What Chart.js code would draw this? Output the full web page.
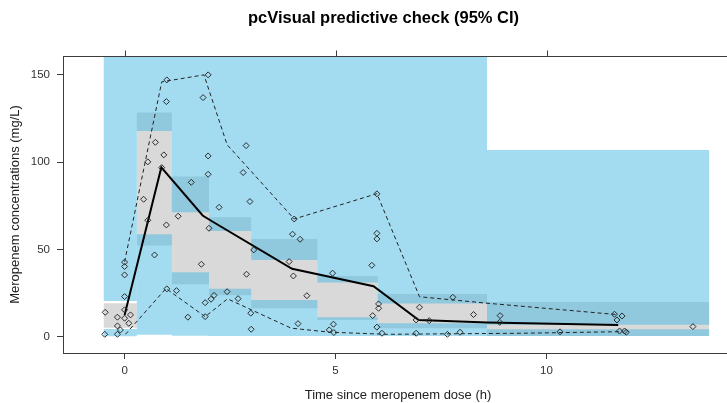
<!DOCTYPE html>
<html>
<head>
<meta charset="utf-8">
<script src="https://cdn.jsdelivr.net/npm/chart.js@4.4.0/dist/chart.umd.min.js"></script>
<style>
  html, body { margin: 0; padding: 0; background: #fff; overflow: hidden; }
  #wrap { width: 767px; height: 403px; }
</style>
</head>
<body>
<div id="wrap"><canvas id="vpc" width="767" height="403"></canvas></div>
<script>
// bins (h) and the simulated intervals per bin (mg/L)
const binEdges   = [-0.5, 0.29, 1.12, 2.0, 3.0, 4.57, 6.0, 8.59, 13.86];
const upperPiLo  = [20.6, 117.9, 71.4, 60.7, 44.1, 31.1, 19.1, 6.9];
const upperPiHi  = [165, 165, 165, 165, 165, 165, 165, 107];
const medianCiLo = [5.3, 52.3, 30.2, 23.9, 16.4, 9.7, 5.0, 0.6];
const medianCiHi = [19.3, 128.4, 91.8, 68.5, 56.1, 34.9, 24.6, 20.0];
const lowerPiLo  = [0.4, 1.3, 0.7, 0.6, 0.6, 0.5, 0.5, 0.6];
const lowerPiHi  = [4.6, 58.8, 37.0, 27.6, 21.2, 11.3, 7.8, 4.4];

// observed percentiles
const medTime = [0.0, 0.87, 1.85, 2.05, 3.97, 5.9, 6.97, 8.6, 11.7];
const medConc = [12.5, 97, 69.5, 66.5, 39, 29, 9.7, 8.2, 6.8];
const upTime  = [0.0, 0.88, 1.88, 2.43, 4.02, 5.98, 6.99, 8.59, 11.67];
const upConc  = [43, 146, 150, 110, 67.5, 82, 23, 19.3, 12.8];
const lowTime = [0.02, 0.98, 1.91, 2.44, 3.95, 4.87, 6.2, 9.4, 11.75];
const lowConc = [1.5, 27.7, 11.6, 21.8, 5, 2.7, 1.5, 2.1, 3.0];

// observed concentrations
const obsTime = [
  -0.47, -0.46, -0.17, -0.17, -0.1, -0.17, 0.0, 0.0, 0.0, 0.0, 0.0, 0.0, 0.14, 0.1,
  0.45, 0.55, 0.55, 0.71, 0.73, 0.88, 0.93, 0.99, 1.0, 0.99, 1.0,
  1.23, 1.27, 1.5, 1.58, 1.82, 1.86, 1.91, 1.91, 1.98, 1.98, 1.98, 2.0,
  2.05, 2.12, 2.24, 2.43, 2.69, 2.81, 2.88, 2.89, 2.97, 2.99, 3.0, 3.06,
  3.9, 3.98, 4.0, 4.02, 4.11, 4.16, 4.32,
  4.85, 4.93, 4.95, 4.96, 5.86, 5.88, 5.98, 5.98, 5.98, 5.98,
  6.02, 6.02, 6.1, 6.91, 6.91, 6.99, 7.22, 7.65, 7.78, 7.95, 8.27,
  8.9, 8.89, 10.32, 11.61, 11.67, 11.79, 11.73, 11.85, 11.89, 13.47
];
const obsConc = [
  1.5, 14.1, 11.3, 6.3, 4.0, 1.5, 42.8, 40.3, 35.5, 23.1, 15.5, 10.7, 12.6, 7.8,
  78.8, 100.2, 66.8, 46.9, 111.4, 96.9, 104.2, 134.7, 147.1, 64.1, 27.5,
  26.5, 69.1, 11.3, 88.5, 41.6, 137, 19.6, 11.6, 150, 103.6, 93.1, 62.2,
  21.6, 23.8, 74.2, 25.9, 21.9, 94.1, 109.5, 35.9, 77.5, 13.6, 4.4, 49.8,
  43.1, 58.8, 34.9, 67.5, 7.6, 55.9, 23.6,
  4.0, 36.5, 7.3, 2.5, 41, 12.2, 81.9, 59.3, 56.1, 5.6,
  18.9, 16.4, 2.1, 9.7, 2.1, 17, 9.3, 1.5, 22.7, 2.7, 12.8,
  12.2, 8.4, 2.9, 13, 9.7, 12, 3.4, 3.4, 2.7, 5.9
];

const FONT = "'Liberation Sans', Arial, sans-serif";
const GREY_BAND = '#d9d9d9';
const BLUE_BAND = 'rgba(71, 185, 227, 0.5)';

// step outline of one band edge across the bins
function stepEdge(values) {
  const pts = [];
  values.forEach((v, i) => {
    pts.push({ x: binEdges[i], y: v });
    pts.push({ x: binEdges[i + 1], y: v });
  });
  return pts;
}

function edgeSet(values, fill, color, order) {
  return {
    data: stepEdge(values),
    borderColor: 'transparent',
    backgroundColor: color,
    pointRadius: 0,
    tension: 0,
    fill: fill,
    order: order
  };
}

function toPoints(xs, ys) {
  return xs.map((x, i) => ({ x: x, y: ys[i] }));
}

// frame around the panel plus tick marks on top
const framePlugin = {
  id: 'frame',
  afterDraw(chart) {
    const { ctx, chartArea: a, scales } = chart;
    ctx.save();
    ctx.strokeStyle = '#3c3c3c';
    ctx.lineWidth = 1;
    const l = Math.round(a.left) + 0.5, t = Math.round(a.top) + 0.5;
    const r = Math.round(a.right) + 0.5, b = Math.round(a.bottom) + 0.5;
    ctx.strokeRect(l, t, r - l, b - t);
    ctx.beginPath();
    scales.x.ticks.forEach(tk => {
      const px = Math.round(scales.x.getPixelForValue(tk.value)) + 0.5;
      ctx.moveTo(px, t);
      ctx.lineTo(px, t - 6);
    });
    ctx.stroke();
    ctx.restore();
  }
};

const ctx = document.getElementById('vpc').getContext('2d');

new Chart(ctx, {
  type: 'line',
  data: {
    datasets: [
      edgeSet(medianCiLo, false, GREY_BAND, 10),
      edgeSet(medianCiHi, '-1', GREY_BAND, 10),
      edgeSet(upperPiLo, false, BLUE_BAND, 8),
      edgeSet(upperPiHi, '-1', BLUE_BAND, 8),
      edgeSet(lowerPiLo, false, BLUE_BAND, 8),
      edgeSet(lowerPiHi, '-1', BLUE_BAND, 8),
      {
        data: toPoints(medTime, medConc),
        borderColor: '#000',
        borderWidth: 2,
        pointRadius: 0,
        fill: false,
        order: 3
      },
      {
        data: toPoints(upTime, upConc),
        borderColor: '#222',
        borderWidth: 1,
        borderDash: [4, 3],
        pointRadius: 0,
        fill: false,
        order: 3
      },
      {
        data: toPoints(lowTime, lowConc),
        borderColor: '#222',
        borderWidth: 1,
        borderDash: [4, 3],
        pointRadius: 0,
        fill: false,
        order: 3
      },
      {
        data: toPoints(obsTime, obsConc),
        showLine: false,
        pointStyle: 'rectRot',
        pointRadius: 3,
        pointBorderWidth: 1,
        pointBorderColor: '#2b2b2b',
        pointBackgroundColor: 'transparent',
        fill: false,
        order: 1
      }
    ]
  },
  options: {
    responsive: false,
    animation: false,
    events: [],
    layout: { padding: 0 },
    scales: {
      x: {
        type: 'linear',
        min: -1.46,
        max: 14.42,
        border: { display: false },
        grid: { drawOnChartArea: false, drawTicks: true, tickLength: 6, color: '#3c3c3c' },
        ticks: {
          stepSize: 5,
          includeBounds: false,
          padding: 5,
          color: '#333',
          font: { family: FONT, size: 11.5 }
        },
        title: {
          display: true,
          text: 'Time since meropenem dose (h)',
          color: '#222',
          font: { family: FONT, size: 13 },
          padding: { top: 0, bottom: 0 }
        },
        afterFit(scale) { scale.height = 50; }
      },
      y: {
        min: -9.2,
        max: 160.8,
        border: { display: false },
        grid: { drawOnChartArea: false, drawTicks: true, tickLength: 6, color: '#3c3c3c' },
        ticks: {
          stepSize: 50,
          includeBounds: false,
          padding: 7,
          color: '#333',
          font: { family: FONT, size: 11.5 }
        },
        title: {
          display: true,
          text: 'Meropenem concentrations (mg/L)',
          color: '#222',
          font: { family: FONT, size: 13 },
          padding: { top: 8, bottom: 0 }
        },
        afterFit(scale) { scale.width = 63; }
      },
      yRight: {
        position: 'right',
        min: -9.2,
        max: 160.8,
        border: { display: false },
        grid: { drawOnChartArea: false, drawTicks: true, tickLength: 6, color: '#3c3c3c' },
        ticks: { stepSize: 50, includeBounds: false, display: false },
        afterFit(scale) { scale.width = 34; }
      }
    },
    plugins: {
      legend: { display: false },
      tooltip: { enabled: false },
      title: {
        display: true,
        text: 'pcVisual predictive check (95% CI)',
        color: '#000',
        font: { family: FONT, size: 16.5, weight: 'bold' },
        padding: { top: 8.6, bottom: 27.6 }
      }
    }
  },
  plugins: [framePlugin]
});
</script>
</body>
</html>
